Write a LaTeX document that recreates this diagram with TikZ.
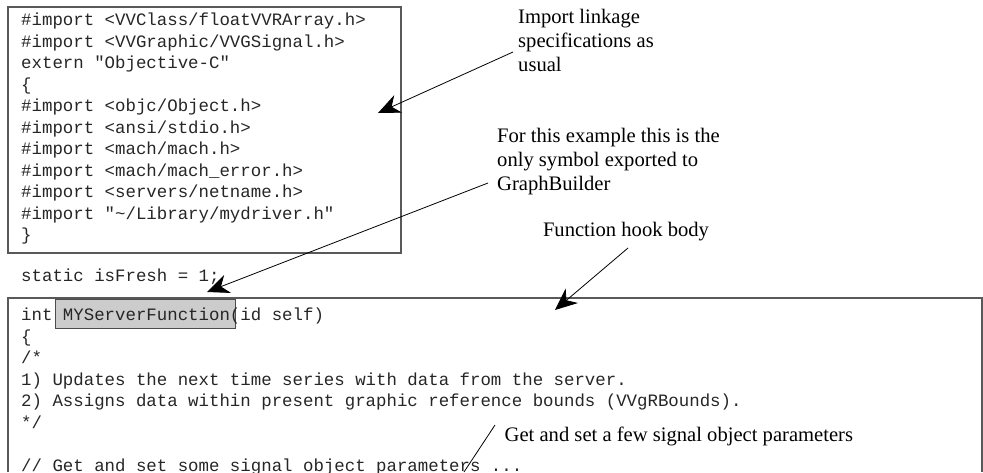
\documentclass[tikz,border=0pt]{standalone}
\usepackage{fontspec}
\setmainfont{Liberation Serif}
\newfontfamily\codefont{Liberation Mono}
\usetikzlibrary{arrows.meta}
\newcommand{\codedots}{...}

\begin{document}
\begin{tikzpicture}[x=1pt,y=-1pt]
  \tikzstyle{codebox}=[draw=black!65,line width=1.3pt]
  \tikzstyle{hilite}=[draw=black!70,fill=black!20,line width=1pt]
  \tikzstyle{code}=[anchor=base west,inner sep=0pt,text=black!85,font=\codefont\fontsize{17.4}{21.5}\selectfont]
  \tikzstyle{note}=[inner sep=0pt,align=left,font=\fontsize{20.6}{24}\selectfont]
  \tikzstyle{callout}=[line width=0.8pt,-{Stealth[length=22pt,width=19pt,inset=7pt]}]
  \useasboundingbox (0,0) rectangle (983,472);

  \draw[codebox] (8,7) rectangle (401,253);
  \draw[codebox] (8,472) -- (8,298) -- (982,298) -- (982,472);
  \draw[hilite] (55,299) rectangle (235,328);

  \foreach \ln [count=\i] in {{\#import <VVClass/floatVVRArray.h>},{\#import <VVGraphic/VVGSignal.h>},
      {extern "Objective-C"},{\{},{\#import <objc/Object.h>},{\#import <ansi/stdio.h>},
      {\#import <mach/mach.h>},{\#import <mach/mach\_error.h>},{\#import <servers/netname.h>},
      {\#import "\textasciitilde/Library/mydriver.h"},{\}}}
    \node[code] (imp\i) at (21,{25.5+(\i-1)*21.5}) {\ln};
  \node[code] (fresh) at (21,281) {static isFresh = 1;};
  \foreach \ln [count=\i] in {{int MYServerFunction(id self)},{\{},{/*},
      {1) Updates the next time series with data from the server.},
      {2) Assigns data within present graphic reference bounds (VVgRBounds).},
      {*/},{},{// Get and set some signal object parameters \codedots}}
    \node[code] (fn\i) at (21,{320.5+(\i-1)*21.5}) {\ln};

  \node[note,anchor=north west] (linknote) at (518,9.3) {Import linkage\\specifications as\\usual};
  \node[note,anchor=north west] (symnote) at (497,127.7) {For this example this is the\\only symbol exported to\\GraphBuilder};
  \node[note,anchor=base] (hooknote) at (626,236.7) {Function hook body};
  \node[note,anchor=base west] (paramnote) at (504.5,441.7) {Get and set a few signal object parameters};

  \coordinate (linktail) at (513,52);
  \coordinate (linktip) at (378,113);
  \coordinate (symtail) at (488,183);
  \coordinate (symtip) at (207,292);
  \coordinate (hooktail) at (628,248);
  \coordinate (hooktip) at (555,310);
  \coordinate (paramtail) at (495,425);
  \coordinate (paramend) at (464,472);
  \draw[callout] (linktail) -- (linktip);
  \draw[callout] (symtail) -- (symtip);
  \draw[callout] (hooktail) -- (hooktip);
  \draw[line width=0.8pt] (paramtail) -- (paramend);
\end{tikzpicture}
\end{document}
